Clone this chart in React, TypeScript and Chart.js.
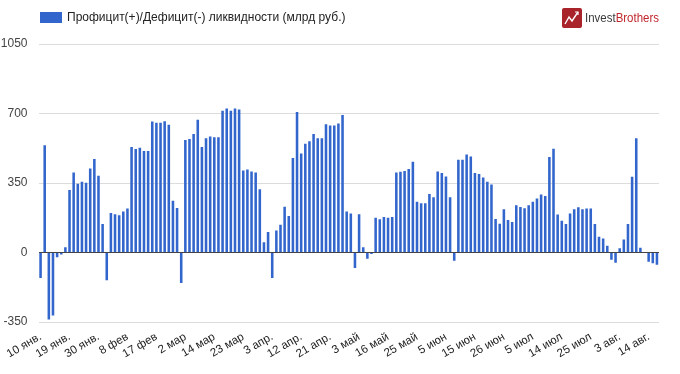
import React, { useEffect, useRef } from "react";
import { Chart, registerables } from "chart.js";

Chart.register(...registerables);

// Business days (categories), grouped by month
const MONTH_NAMES = ["янв.", "фев", "мар", "апр.", "май", "июн", "июл", "авг."];
const MONTH_DAYS: number[][] = [
  [10, 11, 12, 13, 16, 17, 18, 19, 20, 23, 24, 25, 26, 27, 30, 31],
  [1, 2, 3, 6, 7, 8, 9, 10, 13, 14, 15, 16, 17, 20, 21, 22, 27, 28],
  [1, 2, 3, 6, 7, 9, 10, 13, 14, 15, 16, 17, 20, 21, 22, 23, 24, 27, 28, 29, 30, 31],
  [3, 4, 5, 6, 7, 10, 11, 12, 13, 14, 17, 18, 19, 20, 21, 24, 25, 26, 27, 28],
  [2, 3, 4, 5, 10, 11, 12, 15, 16, 17, 18, 19, 22, 23, 24, 25, 26, 29, 30, 31],
  [1, 2, 5, 6, 7, 8, 9, 13, 14, 15, 16, 19, 20, 21, 22, 23, 26, 27, 28, 29, 30],
  [3, 4, 5, 6, 7, 10, 11, 12, 13, 14, 17, 18, 19, 20, 21, 24, 25, 26, 27, 28, 31],
  [1, 2, 3, 4, 7, 8, 9, 10, 11, 14, 15, 16],
];
const CATEGORIES: string[] = MONTH_DAYS.flatMap((days, m) =>
  days.map((d) => `${d} ${MONTH_NAMES[m]}`)
);

// Liquidity surplus(+)/deficit(-), bn RUB
const VALUES: number[] = [
  -128, 540, -337, -317, -24, -10, 27, 315, 403, 346,
  356, 351, 423, 471, 386, 143, -140, 199, 192, 187,
  207, 221, 531, 521, 528, 511, 511, 660, 653, 653,
  661, 643, 261, 224, -154, 567, 572, 597, 668, 531,
  575, 584, 580, 580, 714, 725, 714, 725, 720, 413,
  418, 408, 403, 319, 51, 103, -128, 111, 140, 231,
  184, 476, 707, 499, 548, 560, 597, 575, 575, 646,
  639, 639, 650, 693, 206, 196, -78, 192, 27, -32,
  -7, 175, 167, 179, 175, 179, 403, 407, 410, 420,
  457, 256, 248, 248, 294, 278, 408, 400, 383, 278,
  -42, 467, 467, 493, 484, 400, 395, 378, 356, 342,
  169, 145, 218, 164, 154, 238, 229, 223, 238, 256,
  272, 292, 285, 481, 523, 191, 160, 143, 196, 218,
  228, 218, 221, 221, 143, 79, 71, 34, -37, -51,
  22, 66, 143, 381, 575, 24, 0, -46, -54, -62,
];

const Y_TICKS = [-350, 0, 350, 700, 1050];
const LABEL_EVERY = 7;
const SERIES_NAME = "Профицит(+)/Дефицит(-) ликвидности (млрд руб.)";
const BAR_COLOR = "#3366cc";

export default function App() {
  const canvasRef = useRef<HTMLCanvasElement | null>(null);

  useEffect(() => {
    if (!canvasRef.current) return;
    const chart = new Chart(canvasRef.current, {
      type: "bar",
      data: {
        labels: CATEGORIES,
        datasets: [
          {
            label: SERIES_NAME,
            data: VALUES,
            backgroundColor: BAR_COLOR,
            borderWidth: 0,
            barPercentage: 0.62,
            categoryPercentage: 1,
          },
        ],
      },
      options: {
        animation: false,
        responsive: false,
        devicePixelRatio: 1,
        layout: { padding: { top: 44, right: 21, left: 0, bottom: 0 } },
        plugins: {
          legend: { display: false },
          tooltip: { enabled: false },
        },
        scales: {
          x: {
            grid: { display: false },
            border: { display: false },
            ticks: {
              autoSkip: false,
              maxRotation: 30,
              minRotation: 30,
              padding: 0,
              color: "#222",
              font: { family: "'Liberation Sans', Arial, sans-serif", size: 11.5 },
              callback: (_v: any, i: number) => (i % LABEL_EVERY === 0 ? CATEGORIES[i] : ""),
            },
            afterFit: (s: any) => {
              s.height = 52;
            },
          },
          y: {
            min: -350,
            max: 1050,
            border: { display: false },
            grid: {
              drawTicks: false,
              color: (c: any) => (c.tick && c.tick.value === 0 ? "#444" : "#dcdcdc"),
              lineWidth: 1,
            },
            ticks: {
              padding: 11,
              color: "#444",
              font: { family: "'Liberation Sans', Arial, sans-serif", size: 12 },
              callback: (v: any) => String(v),
            },
            afterBuildTicks: (s: any) => {
              s.ticks = Y_TICKS.map((v) => ({ value: v }));
            },
            afterFit: (s: any) => {
              s.width = 38.5;
            },
          },
        },
      },
    });
    return () => chart.destroy();
  }, []);

  return (
    <div
      style={{
        position: "fixed",
        left: 0,
        top: 0,
        width: 680,
        height: 374,
        background: "#fff",
        fontFamily: "'Liberation Sans', Arial, sans-serif",
      }}
    >
      <canvas ref={canvasRef} width={680} height={374} style={{ position: "absolute", left: 0, top: 0 }} />
      <div
        style={{
          position: "absolute",
          left: 40,
          top: 12,
          width: 22,
          height: 11,
          background: BAR_COLOR,
        }}
      />
      <div
        style={{
          position: "absolute",
          left: 67,
          top: 10,
          fontSize: 12,
          lineHeight: "14px",
          color: "#222",
          whiteSpace: "nowrap",
        }}
      >
        {SERIES_NAME}
      </div>
      <svg
        style={{ position: "absolute", left: 562, top: 8 }}
        width={20}
        height={20}
        viewBox="0 0 20 20"
      >
        <rect x={0} y={0} width={20} height={20} rx={2} fill="#a8232a" />
        <polyline
          points="3,16 7,9 10,13 16,4"
          fill="none"
          stroke="#fff"
          strokeWidth={1.4}
        />
        <polyline points="13,4 16,4 16,7" fill="none" stroke="#fff" strokeWidth={1.2} />
      </svg>
      <div
        style={{
          position: "absolute",
          left: 585,
          top: 9,
          fontSize: 13.5,
          lineHeight: "18px",
          whiteSpace: "nowrap",
          transform: "scaleX(0.85)",
          transformOrigin: "left center",
        }}
      >
        <span style={{ color: "#3a3a3a" }}>Invest</span>
        <span style={{ color: "#c0272d" }}>Brothers</span>
      </div>
    </div>
  );
}
